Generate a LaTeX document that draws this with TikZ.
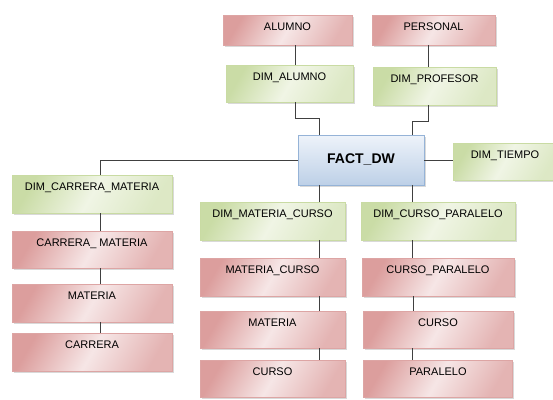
\documentclass[tikz,border=0pt]{standalone}
\usepackage{fontspec}
\setmainfont{Liberation Sans}
\usetikzlibrary{positioning, shadows}

\definecolor{redD}{HTML}{DC9E9D}
\definecolor{redL}{HTML}{F6E6E6}
\definecolor{redB}{HTML}{DDA5A4}
\definecolor{greenD}{HTML}{CADCA6}
\definecolor{greenL}{HTML}{F0F5E5}
\definecolor{greenB}{HTML}{C9DBA3}
\definecolor{blueD}{HTML}{BDD0E7}
\definecolor{blueL}{HTML}{EEF3FA}
\definecolor{blueB}{HTML}{95B3D7}
\definecolor{lineC}{HTML}{404040}

\begin{document}
\begin{tikzpicture}[x=1pt, y=-1pt,
    every node/.style={font=\fontsize{11}{13}\selectfont, inner ysep=7pt, text height=8pt, text depth=16pt,
        drop shadow={shadow xshift=1.5pt, shadow yshift=-1.5pt, opacity=0.3}},
    srctab/.style={draw=redB, left color=redD, right color=redD!70!redL, middle color=redL, shading angle=60},
    dimtab/.style={draw=greenB, left color=greenD, right color=greenD!50!greenL, middle color=greenL, shading angle=60},
    facttab/.style={draw=blueB, top color=blueL, bottom color=blueD, font=\fontsize{14}{16}\selectfont\bfseries,
        inner ysep=18pt, text height=10pt, text depth=4pt},
    link/.style={draw=lineC, line width=0.8pt}]
                \useasboundingbox (0,0) rectangle (553,399);

                % Nodes
                \node[srctab, minimum width=129pt, text depth=8pt] (alumno) at (287.5,30) {ALUMNO};
                \node[srctab, minimum width=123pt, text depth=8pt] (personal) at (433.5,30) {PERSONAL};
                \node[dimtab, minimum width=127pt, text depth=15pt] (dimalumno) at (289.5,83.5) {DIM\_ALUMNO};
                \node[dimtab, minimum width=123pt] (dimprofesor) at (434.5,86) {DIM\_PROFESOR};
                \node[facttab, minimum width=126pt] (fact) at (361,160) {FACT\_DW};
                \node[dimtab, minimum width=104pt, text depth=15pt] (dimtiempo) at (505,161.5) {DIM\_TIEMPO};

                \node[dimtab, minimum width=160pt] (dimcarrera) at (92,194) {DIM\_CARRERA\_MATERIA};
                \node[srctab, minimum width=160pt, text depth=15pt] (carreramateria) [below of=dimcarrera, node distance=55.5pt] {CARRERA\_ MATERIA};
                \node[srctab, minimum width=160pt] (materiaA) [below of=carreramateria, node distance=53.5pt] {MATERIA};
                \node[srctab, minimum width=160pt] (carrera) [below of=materiaA, node distance=49pt] {CARRERA};

                \node[dimtab, minimum width=145pt] (dimmateriacurso) at (272.5,221) {DIM\_MATERIA\_CURSO};
                \node[srctab, minimum width=145pt] (materiacurso) [below of=dimmateriacurso, node distance=56pt] {MATERIA\_CURSO};
                \node[srctab, minimum width=145pt, text depth=15pt] (materiaB) [below of=materiacurso, node distance=52.5pt] {MATERIA};
                \node[srctab, minimum width=145pt, text depth=15pt] (cursoA) [below of=materiaB, node distance=49pt] {CURSO};

                \node[dimtab, minimum width=154pt] (dimcursoparalelo) at (438,221) {DIM\_CURSO\_PARALELO};
                \node[srctab, minimum width=152pt] (cursoparalelo) [below of=dimcursoparalelo, node distance=56pt] {CURSO\_PARALELO};
                \node[srctab, minimum width=150pt, text depth=15pt] (cursoB) [below of=cursoparalelo, node distance=52.5pt] {CURSO};
                \node[srctab, minimum width=149pt, text depth=15pt] (paralelo) [below of=cursoB, node distance=49pt] {PARALELO};

                % Edges
                \draw[link] ([xshift=7.5pt]alumno.south) -- ([xshift=7.5pt]alumno.south |- dimalumno.north);
                \draw[link] ([xshift=5.5pt]dimalumno.south) -- ++(0,16) -| ([xshift=-42pt]fact.north);
                \draw[link] ([xshift=-5.5pt]personal.south) -- ([xshift=-5.5pt]personal.south |- dimprofesor.north);
                \draw[link] ([xshift=-6.5pt]dimprofesor.south) -- ++(0,16) -| ([xshift=51pt]fact.north);
                \draw[link] (fact.east) -- (fact.east -| dimtiempo.west);
                \draw[link] (fact.west) -| ([xshift=8pt]dimcarrera.north);
                \draw[link] ([xshift=-42pt]fact.south) -- ([xshift=-42pt]fact.south |- dimmateriacurso.north);
                \draw[link] ([xshift=51pt]fact.south) -- ([xshift=51pt]fact.south |- dimcursoparalelo.north);

                \draw[link] ([xshift=8pt]dimcarrera.south) -- ([xshift=8pt]dimcarrera.south |- carreramateria.north);
                \draw[link] ([xshift=8pt]carreramateria.south) -- ([xshift=8pt]carreramateria.south |- materiaA.north);
                \draw[link] ([xshift=8pt]materiaA.south) -- ([xshift=8pt]materiaA.south |- carrera.north);

                \draw[link] ([xshift=46.5pt]dimmateriacurso.south) -- ([xshift=46.5pt]dimmateriacurso.south |- materiacurso.north);
                \draw[link] ([xshift=46.5pt]materiacurso.south) -- ([xshift=46.5pt]materiacurso.south |- materiaB.north);
                \draw[link] ([xshift=46.5pt]materiaB.south) -- ([xshift=46.5pt]materiaB.south |- cursoA.north);

                \draw[link] ([xshift=-26pt]dimcursoparalelo.south) -- ([xshift=-26pt]dimcursoparalelo.south |- cursoparalelo.north);
                \draw[link] ([xshift=-25pt]cursoparalelo.south) -- ([xshift=-25pt]cursoparalelo.south |- cursoB.north);
                \draw[link] ([xshift=-26pt]cursoB.south) -- ([xshift=-26pt]cursoB.south |- paralelo.north);
            \end{tikzpicture}
\end{document}
